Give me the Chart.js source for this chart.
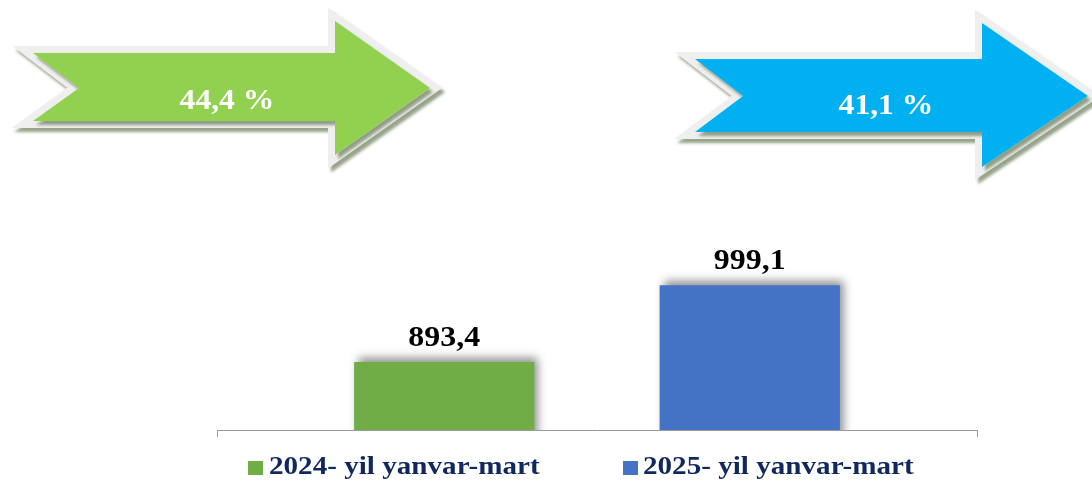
<!DOCTYPE html>
<html>
<head>
<meta charset="utf-8">
<script src="https://cdn.jsdelivr.net/npm/chart.js@4.4.1/dist/chart.umd.min.js"></script>
<style>
  body { margin: 0; background: #fff; }
  #wrap { position: relative; width: 1092px; height: 484px; overflow: hidden; }
  #chart { position: absolute; left: 0; top: 0; }
  .arrow-label {
    position: absolute; width: 200px; text-align: center;
    font: bold 29px/29px "Liberation Serif", "Times New Roman", serif;
    color: #fff; transform: scaleX(1.09); white-space: nowrap;
  }
  .legend-item {
    position: absolute; white-space: nowrap;
    font: bold 26px/26px "Liberation Serif", "Times New Roman", serif;
    color: #10285e;
  }
  .legend-item .txt { display: inline-block; transform: scaleX(1.12); transform-origin: left center; }
  .legend-box { position: absolute; width: 15px; height: 14px; }
</style>
</head>
<body>
<div id="wrap">
  <canvas id="chart" width="1092" height="484"></canvas>
  <div id="legend"></div>
</div>
<script>
// data
const categories = [''];
const seriesNames = ['2024- yil yanvar-mart', '2025- yil yanvar-mart'];
const seriesValues = [893.4, 999.1];
const seriesColors = ['#70AD47', '#4472C4'];
const growthLabels = ['44,4 %', '41,1 %'];

// arrow shapes above the chart (decoration)
const arrows = [
  { color: '#92D050', pts: [[33,53],[335,53],[335,21],[430,88],[335,155],[335,121],[33,121],[79,88]], label: { cx: 227, top: 85 } },
  { color: '#00B0F0', pts: [[695,59],[982,59],[982,23],[1088,96],[982,167],[982,132],[695,132],[743,96]], label: { cx: 886, top: 90 } }
];

function tracePath(ctx, pts) {
  ctx.beginPath();
  ctx.moveTo(pts[0][0], pts[0][1]);
  for (let i = 1; i < pts.length; i++) ctx.lineTo(pts[i][0], pts[i][1]);
  ctx.closePath();
}

const arrowPlugin = {
  id: 'arrows',
  beforeDraw(chart) {
    const ctx = chart.ctx;
    arrows.forEach(a => {
      ctx.save();
      ctx.lineJoin = 'miter';
      // shadow + light border
      ctx.shadowColor = 'rgba(95,115,75,0.65)';
      ctx.shadowBlur = 3;
      ctx.shadowOffsetX = 3;
      ctx.shadowOffsetY = 4;
      tracePath(ctx, a.pts);
      ctx.lineWidth = 14;
      ctx.strokeStyle = '#EFEFEF';
      ctx.stroke();
      ctx.fillStyle = '#EFEFEF';
      ctx.fill();
      ctx.restore();
      ctx.save();
      tracePath(ctx, a.pts);
      ctx.fillStyle = a.color;
      ctx.fill();
      ctx.restore();
    });
  }
};

// soft shadow behind bars
const barShadow = {
  id: 'barShadow',
  beforeDatasetsDraw(chart) {
    const ctx = chart.ctx;
    ctx.save();
    ctx.shadowColor = 'rgba(0,0,0,0.45)';
    ctx.shadowBlur = 9;
    ctx.shadowOffsetX = 4;
    ctx.shadowOffsetY = -4;
  },
  afterDatasetsDraw(chart) {
    chart.ctx.restore();
  }
};

// value labels above bars
const valueLabels = {
  id: 'valueLabels',
  afterDatasetsDraw(chart) {
    const ctx = chart.ctx;
    chart.data.datasets.forEach((ds, i) => {
      const meta = chart.getDatasetMeta(i);
      meta.data.forEach((bar, j) => {
        const txt = ds.data[j].toFixed(1).replace('.', ',');
        ctx.save();
        ctx.translate(bar.x, bar.y - 16);
        ctx.scale(1.1, 1);
        ctx.font = 'bold 29px "Liberation Serif", "Times New Roman", serif';
        ctx.fillStyle = '#000';
        ctx.textAlign = 'center';
        ctx.textBaseline = 'alphabetic';
        ctx.fillText(txt, 0, 0);
        ctx.restore();
      });
    });
  }
};

const ctx = document.getElementById('chart').getContext('2d');
const chart = new Chart(ctx, {
  type: 'bar',
  data: {
    labels: categories,
    datasets: seriesNames.map((name, i) => ({
      label: name,
      data: [seriesValues[i]],
      backgroundColor: seriesColors[i],
      borderWidth: 0,
      barPercentage: 0.59,
      categoryPercentage: 0.804
    }))
  },
  options: {
    responsive: false,
    animation: false,
    layout: { padding: { left: 217, right: 115, top: 209, bottom: 47 } },
    scales: {
      x: {
        grid: { display: true, drawOnChartArea: false, drawTicks: true, tickLength: 7, color: '#9a9a9a' },
        border: { display: true, color: '#9a9a9a', width: 1 },
        ticks: { display: false }
      },
      y: {
        display: false,
        min: 800,
        max: 1104
      }
    },
    plugins: {
      legend: { display: false },
      tooltip: { enabled: false }
    }
  },
  plugins: [arrowPlugin, barShadow, valueLabels]
});

// arrow texts
const wrap = document.getElementById('wrap');
arrows.forEach((a, i) => {
  const d = document.createElement('div');
  d.className = 'arrow-label';
  d.textContent = growthLabels[i];
  d.style.left = (a.label.cx - 100) + 'px';
  d.style.top = a.label.top + 'px';
  wrap.appendChild(d);
});

// legend built from chart datasets
const legendPos = [{ box: 248, text: 269 }, { box: 623, text: 643 }];
const legend = document.getElementById('legend');
chart.data.datasets.forEach((ds, i) => {
  const box = document.createElement('span');
  box.className = 'legend-box';
  box.style.background = ds.backgroundColor;
  box.style.left = legendPos[i].box + 'px';
  box.style.top = '461px';
  legend.appendChild(box);
  const item = document.createElement('div');
  item.className = 'legend-item';
  item.style.left = legendPos[i].text + 'px';
  item.style.top = '453px';
  item.innerHTML = '<span class="txt"></span>';
  item.firstChild.textContent = ds.label;
  legend.appendChild(item);
});
</script>
</body>
</html>
